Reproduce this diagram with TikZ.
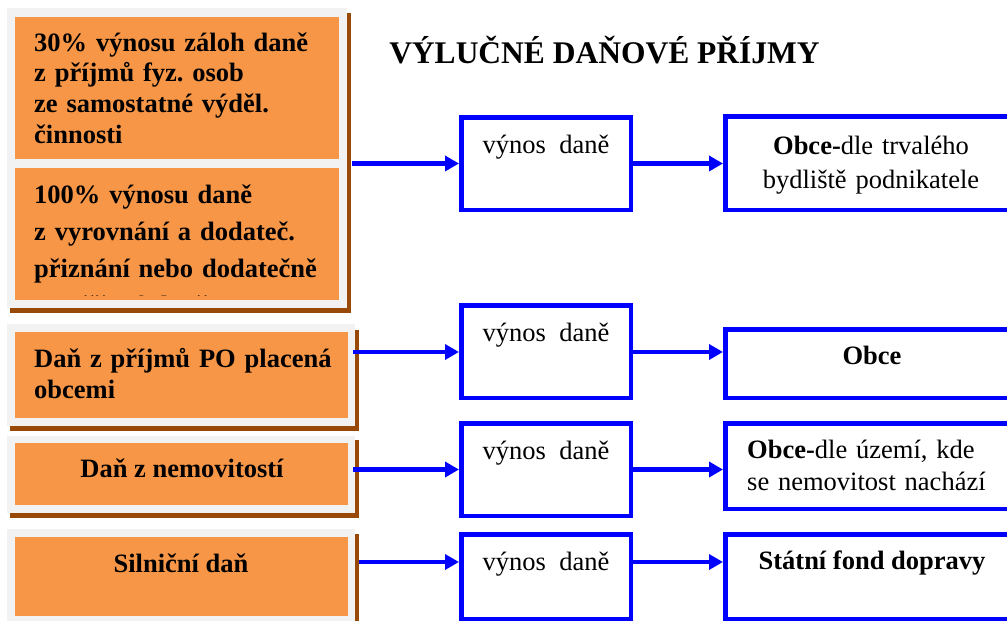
\documentclass[tikz,border=0pt]{standalone}
\usepackage{fontspec}
\setmainfont{Liberation Serif}
\usetikzlibrary{arrows.meta,fit}
\frenchspacing

\definecolor{boxorange}{HTML}{F79646}
\definecolor{panelgray}{HTML}{F2F2F2}
\definecolor{shadowbrown}{HTML}{984807}
\definecolor{flowblue}{HTML}{0000FF}

\begin{document}
\begin{tikzpicture}[x=1pt,y=-1pt,
  shadowbox/.style={fill=shadowbrown, draw=none, inner sep=0pt, outer sep=0pt},
  panelbox/.style={fill=panelgray, draw=none, inner sep=0pt, outer sep=0pt},
  taxbox/.style={fill=boxorange, draw=none, inner sep=0pt, outer sep=0pt},
  bluebox/.style={draw=flowblue, line width=4.5pt, fill=white, inner sep=-2.25pt},
  flow/.style={draw=flowblue, line width=4.5pt, -{Triangle[length=14pt,width=15pt]}},
  boldtext/.style={font=\fontsize{26.5}{#1}\selectfont\bfseries, inner sep=0pt, align=left, text width=315pt, anchor=base west},
  boldtext/.default=31,
  plaintext/.style={font=\fontsize{26.5}{32}\selectfont, inner sep=0pt},
  titletext/.style={font=\fontsize{31.5}{36}\selectfont\bfseries, inner sep=0pt, anchor=base}
]
\clip (0,0) rectangle (1007,621);
\fill[white] (0,0) rectangle (1007,621);

% title
\node[titletext] (title) at (604.5,63) {VÝLUČNÉ DAŇOVÉ PŘÍJMY};

% left column: source taxes on gray panels with brown shadow
\node[shadowbox, fit={(10,13) (351,313)}] (shA) {};
\node[panelbox, fit={(7,8) (347,308)}] (panA) {};
\node[taxbox, fit={(15,17) (339,159)}] (taxA1) {};
\node[taxbox, fit={(15,168) (339,300)}] (taxA2) {};

\node[shadowbox, fit={(10,330) (359,431)}] (shB) {};
\node[panelbox, fit={(7,324) (355,426)}] (panB) {};
\node[taxbox, fit={(15,332) (348,418)}] (taxB) {};

\node[shadowbox, fit={(10,440) (359,518)}] (shC) {};
\node[panelbox, fit={(7,436) (355,513)}] (panC) {};
\node[taxbox, fit={(15,443) (348,505)}] (taxC) {};

\node[shadowbox, fit={(10,534) (359,640)}] (shD) {};
\node[panelbox, fit={(7,529) (355,640)}] (panD) {};
\node[taxbox, fit={(15,537) (348,616)}] (taxD) {};

\node[boldtext=30.7] (txtA1) at (34,51)
  {30\% výnosu záloh daně\\z příjmů fyz. osob\\ze samostatné výděl.\\činnosti};
\begin{scope}
  \clip (15,168) rectangle (339,295);
  \node[boldtext=37] (txtA2) at (34,203)
    {100\% výnosu daně\\z vyrovnání a dodateč.\\přiznání nebo dodatečně\\vyměřené daně};
\end{scope}
\node[boldtext=31] (txtB) at (34,367) {Daň z příjmů PO placená\\obcemi};
\node[font=\fontsize{26.5}{31}\selectfont\bfseries, inner sep=0pt, anchor=base] (txtC) at (182,477) {Daň z nemovitostí};
\node[font=\fontsize{26.5}{31}\selectfont\bfseries, inner sep=0pt, anchor=base] (txtD) at (181,572) {Silniční daň};

% middle column: tax yield
\node[bluebox, fit={(459,115) (633,212)}] (m1) {};
\node[bluebox, fit={(459,303) (633,400)}] (m2) {};
\node[bluebox, fit={(459,421) (633,518)}] (m3) {};
\node[bluebox, fit={(459,532) (633,621)}] (m4) {};
\foreach \m in {m1,m2,m3,m4}
  \node[plaintext, anchor=base] at ([yshift=-38pt]\m.north) {výnos~\ daně};

% right column: recipients
\node[bluebox, fit={(723,114) (1030,212)}] (r1) {};
\node[bluebox, fit={(723,327) (1030,400)}] (r2) {};
\node[bluebox, fit={(723,421) (1030,511)}] (r3) {};
\node[bluebox, fit={(723,532) (1030,621)}] (r4) {};

\node[plaintext, anchor=base, align=center, text width=280pt, font=\fontsize{26.5}{34}\selectfont] (t1) at (871,154)
  {\textbf{Obce-}dle trvalého\\bydliště podnikatele};
\node[plaintext, anchor=base, font=\fontsize{26.5}{32}\selectfont\bfseries] (t2) at (872,364) {Obce};
\node[plaintext, anchor=base west, align=left, text width=260pt] (t3) at (747,458)
  {\textbf{Obce-}dle území, kde\\se nemovitost nachází};
\node[plaintext, anchor=base, font=\fontsize{26.5}{32}\selectfont\bfseries] (t4) at (872,569) {Státní fond dopravy};

% connectors
\coordinate (s1) at (352,163.5);
\coordinate (s2) at (353,352);
\coordinate (s3) at (353,469.5);
\coordinate (s4) at (359,562);

\draw[flow] (s1) -- (s1 -| m1.west);
\draw[flow] (s1 -| m1.east) -- (s1 -| r1.west);
\draw[flow] (s2) -- (s2 -| m2.west);
\draw[flow] (s2 -| m2.east) -- (s2 -| r2.west);
\draw[flow] (s3) -- (s3 -| m3.west);
\draw[flow] (s3 -| m3.east) -- (s3 -| r3.west);
\draw[flow] (s4) -- (s4 -| m4.west);
\draw[flow] (s4 -| m4.east) -- (s4 -| r4.west);
\end{tikzpicture}
\end{document}
